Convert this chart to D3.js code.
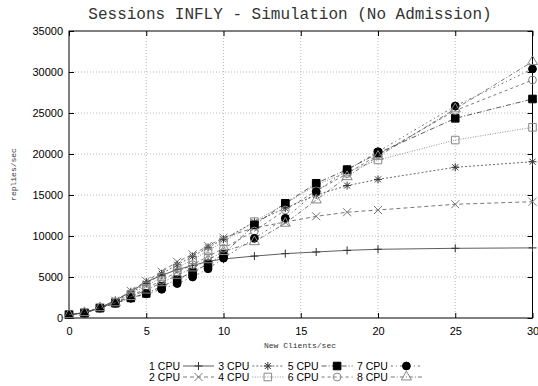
<!DOCTYPE html>
<html>
<head>
<meta charset="utf-8">
<script src="https://cdn.jsdelivr.net/npm/d3@7"></script>
<style>
  body { margin: 0; background: #fff; }
  #chart { width: 538px; height: 386px; }
</style>
</head>
<body>
<div id="chart"></div>
<script>
// Data
const clients = [0, 1, 2, 3, 4, 5, 6, 7, 8, 9, 10, 12, 14, 16, 18, 20, 25, 30];
const seriesNames = ["1 CPU", "2 CPU", "3 CPU", "4 CPU", "5 CPU", "6 CPU", "7 CPU", "8 CPU"];
const cpu1 = [400, 650, 1250, 2150, 3200, 4400, 5200, 5900, 6400, 6900, 7200, 7550, 7850, 8050, 8250, 8380, 8500, 8550];
const cpu2 = [400, 650, 1250, 2100, 3300, 4500, 5650, 6850, 7750, 8800, 9800, 11000, 11700, 12400, 12900, 13170, 13870, 14180];
const cpu3 = [400, 650, 1250, 2000, 3050, 4200, 5400, 6500, 7500, 8600, 9600, 11700, 13400, 15000, 16150, 16900, 18380, 19060];
const cpu4 = [400, 650, 1250, 1950, 2900, 3900, 5000, 6100, 7100, 8200, 9300, 11750, 13950, 16200, 17800, 19270, 21700, 23250];
const cpu5 = [400, 600, 1200, 1800, 2450, 3000, 3850, 4700, 5600, 6600, 7800, 11350, 13990, 16430, 18100, 20100, 24350, 26710];
const cpu6 = [400, 650, 1250, 1900, 2700, 3600, 4600, 5600, 6500, 7500, 8500, 10600, 13170, 15500, 17600, 19900, 25300, 29020];
const cpu7 = [400, 600, 1200, 1800, 2400, 2950, 3500, 4200, 5000, 6000, 7300, 9720, 12160, 15400, 18050, 20280, 25850, 30370];
const cpu8 = [400, 650, 1250, 1850, 2600, 3400, 4300, 5200, 6100, 7100, 8100, 9300, 11550, 14390, 17230, 19700, 25500, 31260];
const xTicks = [0, 5, 10, 15, 20, 25, 30];
const yTicks = [0, 5000, 10000, 15000, 20000, 25000, 30000, 35000];

const allSeries = [cpu1, cpu2, cpu3, cpu4, cpu5, cpu6, cpu7, cpu8];

// gnuplot-like mono styles
const styles = [
  { dash: null,        stroke: "#333", marker: "plus",     fill: "none", mstroke: "#333" },
  { dash: "4,3",       stroke: "#555", marker: "cross",    fill: "none", mstroke: "#777" },
  { dash: "2,2",       stroke: "#444", marker: "star",     fill: "none", mstroke: "#333" },
  { dash: "1,1.5",     stroke: "#777", marker: "square",   fill: "none", mstroke: "#888" },
  { dash: "5,2,1,2",   stroke: "#333", marker: "square",   fill: "#000", mstroke: "#000" },
  { dash: "3,3",       stroke: "#555", marker: "circle",   fill: "none", mstroke: "#888" },
  { dash: "2,3,1,3",   stroke: "#444", marker: "circle",   fill: "#000", mstroke: "#000" },
  { dash: "4,2,1,2",   stroke: "#555", marker: "triangle", fill: "none", mstroke: "#888" }
];

const width = 538, height = 386;
const margin = { top: 31, right: 5.5, bottom: 68, left: 69 };

const svg = d3.select("#chart")
  .append("svg")
  .attr("width", width)
  .attr("height", height)
  .style("font-family", "'Liberation Sans', Arial, sans-serif");

const x = d3.scaleLinear().domain([0, 30]).range([margin.left, width - margin.right]);
const y = d3.scaleLinear().domain([0, 35000]).range([height - margin.bottom, margin.top]);

// grid
svg.append("g")
  .selectAll("line")
  .data(xTicks.slice(1, -1))
  .enter().append("line")
  .attr("x1", d => x(d)).attr("x2", d => x(d))
  .attr("y1", y(0)).attr("y2", y(35000))
  .attr("stroke", "#aaa").attr("stroke-width", 0.8)
  .attr("stroke-dasharray", "1,2");

svg.append("g")
  .selectAll("line")
  .data(yTicks.slice(1, -1))
  .enter().append("line")
  .attr("x1", x(0)).attr("x2", x(30))
  .attr("y1", d => y(d)).attr("y2", d => y(d))
  .attr("stroke", "#aaa").attr("stroke-width", 0.8)
  .attr("stroke-dasharray", "1,2");

// axes (ticks inward, mirrored)
const tickLen = 5;
svg.append("g")
  .attr("transform", `translate(0,${y(0)})`)
  .call(d3.axisBottom(x).tickValues(xTicks).tickSize(-tickLen).tickPadding(9))
  .call(g => g.select(".domain").remove())
  .selectAll("text").style("font-size", "11px").attr("fill", "#000");

svg.append("g")
  .attr("transform", `translate(0,${y(35000)})`)
  .call(d3.axisTop(x).tickValues(xTicks).tickSize(-tickLen).tickFormat(""))
  .call(g => g.select(".domain").remove());

svg.append("g")
  .attr("transform", `translate(${x(0)},0)`)
  .call(d3.axisLeft(y).tickValues(yTicks).tickSize(-tickLen).tickPadding(6).tickFormat(d3.format("d")))
  .call(g => g.select(".domain").remove())
  .selectAll("text").style("font-size", "11px").attr("fill", "#000");

svg.append("g")
  .attr("transform", `translate(${x(30)},0)`)
  .call(d3.axisRight(y).tickValues(yTicks).tickSize(-tickLen).tickFormat(""))
  .call(g => g.select(".domain").remove());

svg.append("rect")
  .attr("x", x(0)).attr("y", y(35000))
  .attr("width", x(30) - x(0)).attr("height", y(0) - y(35000))
  .attr("fill", "none").attr("stroke", "#000").attr("stroke-width", 1);

// marker drawing
function markerPath(type, s) {
  const h = s / 2;
  if (type === "plus") return `M${-h},0H${h}M0,${-h}V${h}`;
  if (type === "cross") return `M${-h},${-h}L${h},${h}M${-h},${h}L${h},${-h}`;
  if (type === "star") return `M${-h},0H${h}M0,${-h}V${h}M${-h*0.75},${-h*0.75}L${h*0.75},${h*0.75}M${-h*0.75},${h*0.75}L${h*0.75},${-h*0.75}`;
  if (type === "square") return d3.symbol(d3.symbolSquare, s * s * 0.9)();
  if (type === "circle") return d3.symbol(d3.symbolCircle, s * s * 0.75)();
  if (type === "triangle") return d3.symbol(d3.symbolTriangle, s * s * 0.7)();
}

function drawMarker(g, st, cx, cy) {
  g.append("path")
    .attr("d", markerPath(st.marker, 8))
    .attr("transform", `translate(${cx},${cy})`)
    .attr("fill", st.fill)
    .attr("stroke", st.mstroke)
    .attr("stroke-width", 1);
}

const line = d3.line()
  .x((d, i) => x(clients[i]))
  .y(d => y(d));

allSeries.forEach((vals, si) => {
  const st = styles[si];
  const g = svg.append("g");
  g.append("path")
    .attr("d", line(vals))
    .attr("fill", "none")
    .attr("stroke", st.stroke)
    .attr("stroke-width", 0.8)
    .attr("stroke-dasharray", st.dash);
  vals.forEach((v, i) => drawMarker(g, st, x(clients[i]), y(v)));
});

// titles
svg.append("text")
  .attr("x", 290).attr("y", 19)
  .attr("text-anchor", "middle")
  .attr("fill", "#333")
  .style("font-family", "'Liberation Mono', 'Courier New', monospace")
  .style("font-size", "16px")
  .text("Sessions INFLY - Simulation (No Admission)");

svg.append("text")
  .attr("x", 300).attr("y", 348)
  .attr("text-anchor", "middle")
  .attr("fill", "#333")
  .style("font-family", "'Liberation Mono', 'Courier New', monospace")
  .style("font-size", "8px")
  .text("New Clients/sec");

svg.append("text")
  .attr("transform", `translate(16,${(y(0) + y(35000)) / 2}) rotate(-90)`)
  .attr("text-anchor", "middle")
  .attr("fill", "#333")
  .style("font-family", "'Liberation Mono', 'Courier New', monospace")
  .style("font-size", "8px")
  .text("replies/sec");

// legend: 4 columns x 2 rows
const legend = svg.append("g");
seriesNames.forEach((name, i) => {
  const col = Math.floor(i / 2), row = i % 2;
  const right = 180 + col * 69.3;
  const ly = 366 + row * 11;
  const st = styles[i];
  legend.append("text")
    .attr("x", right).attr("y", ly + 3.5)
    .attr("text-anchor", "end")
    .style("font-size", "10.5px")
    .text(name);
  legend.append("line")
    .attr("x1", right + 3).attr("x2", right + 34)
    .attr("y1", ly).attr("y2", ly)
    .attr("stroke", st.stroke).attr("stroke-width", 0.8)
    .attr("stroke-dasharray", st.dash);
  drawMarker(legend, st, right + 18.5, ly);
});
</script>
</body>
</html>
